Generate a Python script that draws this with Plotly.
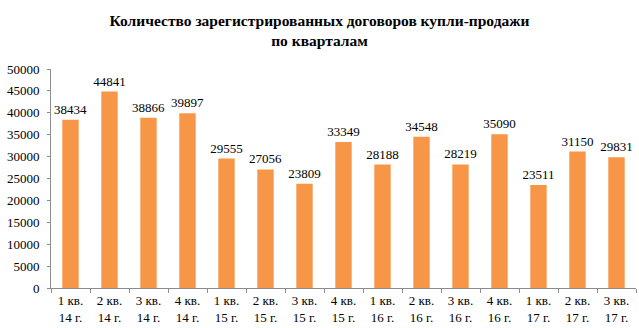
import plotly.graph_objects as go

categories = ["1 кв.<br>14 г.", "2 кв.<br>14 г.", "3 кв.<br>14 г.", "4 кв.<br>14 г.",
              "1 кв.<br>15 г.", "2 кв.<br>15 г.", "3 кв.<br>15 г.", "4 кв.<br>15 г.",
              "1 кв.<br>16 г.", "2 кв.<br>16 г.", "3 кв.<br>16 г.", "4 кв.<br>16 г.",
              "1 кв.<br>17 г.", "2 кв.<br>17 г.", "3 кв.<br>17 г."]
contracts = [38434, 44841, 38866, 39897, 29555, 27056, 23809, 33349,
             28188, 34548, 28219, 35090, 23511, 31150, 29831]
y_ticks = list(range(0, 50001, 5000))

serif = "Liberation Serif, Times New Roman, serif"

fig = go.Figure(go.Bar(
    x=categories,
    y=contracts,
    marker=dict(color="#F79646", line=dict(width=0)),
    width=0.42,
    text=[str(v) for v in contracts],
    textposition="outside",
    constraintext="none",
    textfont=dict(family=serif, size=13, color="#000000"),
    cliponaxis=False,
))

fig.update_layout(
    width=639, height=328,
    margin=dict(l=51, r=3, t=69, b=40),
    paper_bgcolor="white", plot_bgcolor="white",
    showlegend=False,
    title=dict(
        text="<b>Количество зарегистрированных договоров купли-продажи<br>по кварталам</b>",
        x=0.5, xanchor="center", xref="container",
        y=0.92, yanchor="middle", yref="container",
        font=dict(family=serif, size=15.5, color="#000000"),
    ),
    xaxis=dict(
        showline=True, linecolor="#8C8C8C", linewidth=1,
        ticks="outside", tickson="boundaries", ticklen=4, tickcolor="#8C8C8C",
        tickfont=dict(family=serif, size=13, color="#000000"),
        showgrid=False,
    ),
    yaxis=dict(
        range=[0, 50000], tickvals=y_ticks, ticktext=[str(v) for v in y_ticks],
        showline=True, linecolor="#8C8C8C", linewidth=1,
        ticks="outside", ticklen=3, tickcolor="#8C8C8C",
        ticklabelstandoff=5,
        tickfont=dict(family=serif, size=13, color="#000000"),
        showgrid=False, zeroline=False,
    ),
    bargap=0.58,
)

fig.write_html("out.html")
